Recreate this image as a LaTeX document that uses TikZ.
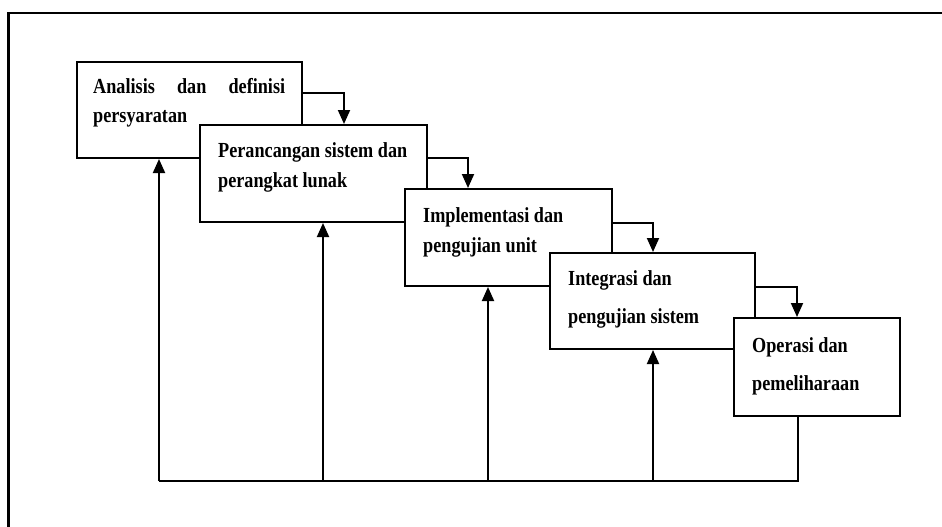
\documentclass[tikz,border=0pt]{standalone}
\usepackage{fontspec}
\setmainfont{Liberation Serif}
\usetikzlibrary{arrows.meta}
\newcommand{\tx}[1]{\scalebox{1}[1.18]{#1}}
\begin{document}
\begin{tikzpicture}[x=1pt,y=-1pt,
  stagebox/.style={draw, line width=2pt, fill=white, inner sep=0pt},
  lbl/.style={anchor=base west, inner sep=0pt, font=\fontsize{18.2}{20}\selectfont\bfseries},
  ln/.style={line width=1.9pt},
  arr/.style={line width=1.9pt, -{Triangle[width=12pt,length=14pt]}}]
\useasboundingbox (0,0) rectangle (942,527);
\draw[line width=2.2pt] (8.5,527) -- (8.5,13) -- (942,13);
% boxes
\node[stagebox, minimum width=225pt, minimum height=96pt] (box1) at (189.5,110) {};
\node[stagebox, minimum width=227pt, minimum height=97pt] (box2) at (313.5,173.5) {};
\node[stagebox, minimum width=207pt, minimum height=97pt] (box3) at (508.5,237.5) {};
\node[stagebox, minimum width=205pt, minimum height=96pt] (box4) at (652.5,301) {};
\node[stagebox, minimum width=166pt, minimum height=98pt] (box5) at (817,367) {};
% labels
\node[lbl] (t1a) at (93,93) {\tx{\hbox to 192pt{Analisis\hfill dan\hfill definisi}}};
\node[lbl] (t1b) at (93,122) {\tx{persyaratan}};
\node[lbl] (t2a) at (218,157) {\tx{Perancangan sistem dan}};
\node[lbl] (t2b) at (218,187) {\tx{perangkat lunak}};
\node[lbl] (t3a) at (423,222) {\tx{Implementasi dan}};
\node[lbl] (t3b) at (423,252) {\tx{pengujian unit}};
\node[lbl] (t4a) at (568,285) {\tx{Integrasi dan}};
\node[lbl] (t4b) at (568,323) {\tx{pengujian sistem}};
\node[lbl] (t5a) at (752,352) {\tx{Operasi dan}};
\node[lbl] (t5b) at (752,390) {\tx{pemeliharaan}};
% forward arrows
\draw[arr] ([yshift=17pt]box1.east) -| ([xshift=30.5pt]box2.north);
\draw[arr] ([yshift=15.5pt]box2.east) -| ([xshift=-40.5pt]box3.north);
\draw[arr] ([yshift=14.5pt]box3.east) -| ([xshift=0.5pt]box4.north);
\draw[arr] ([yshift=14pt]box4.east) -| ([xshift=-20pt]box5.north);
% feedback
\coordinate (fbL) at (159,481);
\coordinate (fbR) at (798,481);
\coordinate (f1) at ([xshift=-30.5pt]box1.south);
\coordinate (f2) at ([xshift=9.5pt]box2.south);
\coordinate (f3) at ([xshift=-20.5pt]box3.south);
\coordinate (f4) at ([xshift=0.5pt]box4.south);
\draw[ln] ([xshift=-19pt]box5.south) -- (fbR) -- (fbL);
\draw[arr] (f1 |- fbL) -- (f1);
\draw[arr] (f2 |- fbL) -- (f2);
\draw[arr] (f3 |- fbL) -- (f3);
\draw[arr] (f4 |- fbL) -- (f4);
\end{tikzpicture}
\end{document}
